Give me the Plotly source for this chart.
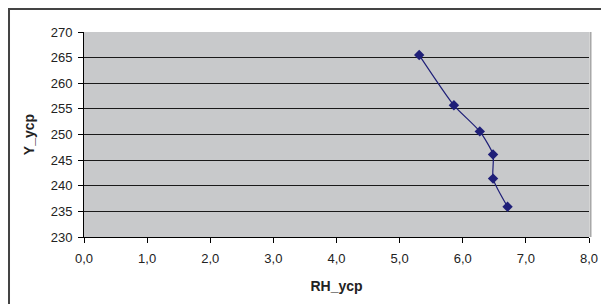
import plotly.graph_objects as go

rh_ycp = [5.31, 5.86, 6.27, 6.48, 6.48, 6.71]
y_ycp = [265.5, 255.7, 250.6, 246.1, 241.4, 235.9]

x_title = "RH_ycp"
y_title = "Y_ycp"

fig = go.Figure()
fig.add_trace(go.Scatter(
    x=rh_ycp, y=y_ycp, mode="lines+markers",
    line=dict(color="#1F1F78", width=1.2, shape="spline", smoothing=0.6),
    marker=dict(symbol="diamond", size=8, color="#1F1F78"),
    showlegend=False,
))

font = dict(family="Liberation Sans, Arial, sans-serif", size=13, color="#222222")

# page body has an 8px default margin, so offsets compensate for it
fig.update_layout(
    width=609, height=304,
    margin=dict(l=76, r=28, t=24, b=75),
    paper_bgcolor="white",
    plot_bgcolor="#C8C9CB",
    separators=", ",
    font=font,
    xaxis=dict(
        range=[0, 8], dtick=1, tick0=0, tickformat=".1f",
        showgrid=False, zeroline=False,
        showline=True, linecolor="#000000", linewidth=1,
        ticks="outside", ticklen=5, tickcolor="#000000",
        ticklabelstandoff=4,
        title=dict(text="<b>" + x_title + "</b>", font=dict(size=14, color="#222222"), standoff=16),
        automargin=False,
    ),
    yaxis=dict(
        range=[230, 270], dtick=5, tick0=230,
        showgrid=True, gridcolor="#1a1a1a", gridwidth=1,
        zeroline=False,
        showline=True, linecolor="#000000", linewidth=1,
        ticks="outside", ticklen=5, tickcolor="#000000",
        ticklabelstandoff=3,
        title=dict(text="<b>" + y_title + "</b>", font=dict(size=14, color="#222222"), standoff=12),
        automargin=False,
    ),
    shapes=[
        dict(type="rect", xref="paper", yref="paper",
             x0=-0.1485, x1=1.2, y0=-0.5, y1=1.112,
             line=dict(color="#444444", width=2), fillcolor="rgba(0,0,0,0)", layer="below"),
        dict(type="line", xref="paper", yref="paper",
             x0=1.003, x1=1.003, y0=0, y1=1.0,
             line=dict(color="#A8A8A8", width=2)),
    ],
)

fig.write_html("out.html")
